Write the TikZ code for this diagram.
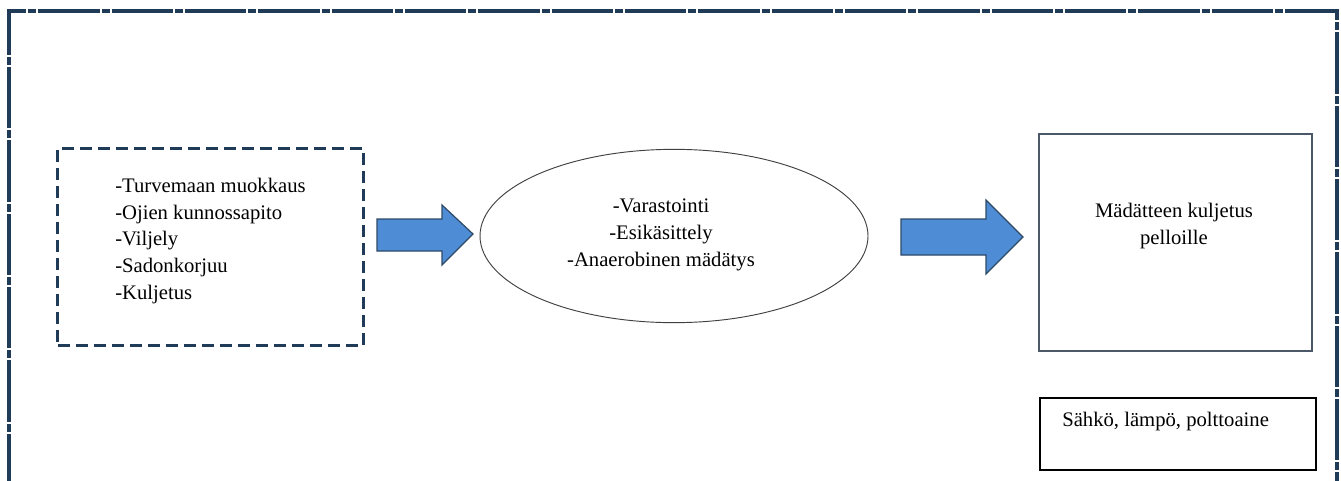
\documentclass[tikz,border=0pt]{standalone}
\usepackage{fontspec}
\setmainfont{Liberation Serif}
\usetikzlibrary{shapes.geometric}
\definecolor{FrameNavy}{HTML}{1F3B57}
\definecolor{ArrowBlue}{HTML}{4F8CD6}
\definecolor{ArrowEdge}{HTML}{2E4A66}
\definecolor{BoxGrey}{HTML}{4A5868}

\begin{document}
\begin{tikzpicture}[x=0.75pt,y=-0.75pt,
    every node/.style={font=\fontsize{15.5}{20}\selectfont},
    framestyle/.style={FrameNavy,line width=2.6pt,dash pattern=on 46pt off 1.5pt on 6pt off 1.5pt},
    workbox/.style={draw=FrameNavy,line width=2.2pt,dash pattern=on 9pt off 4.5pt,
      rectangle,inner sep=0pt,minimum width=229pt,minimum height=148pt,align=left},
    storebox/.style={draw=black!75,line width=0.7pt,ellipse,inner sep=0pt,
      minimum width=291pt,minimum height=130pt},
    haulbox/.style={draw=BoxGrey,line width=1.1pt,rectangle,inner sep=0pt,
      minimum width=205pt,minimum height=163pt},
    energybox/.style={draw=black,line width=2.2pt,rectangle,inner sep=0pt,
      minimum width=207pt,minimum height=54pt},
    bigarrow/.style={fill=ArrowBlue,draw=ArrowEdge,line width=0.9pt,line join=miter}]
  \useasboundingbox (0,0) rectangle (1341,481);
  \fill[white] (0,0) rectangle (1341,481);
  % outer frame, open at the bottom
  \draw[framestyle] (9,495) -- (9,11) -- (1337,11) -- (1337,495);

  \node[workbox] (work) at (210.5,247) {};
  \node[anchor=west,align=left,inner sep=0pt] (worktext) at (115,241)
    {-Turvemaan muokkaus\\-Ojien kunnossapito\\-Viljely\\-Sadonkorjuu\\-Kuljetus};
  \node[storebox] (store) at (674,236) {};
  \node[align=center] (storetext) at (661,235) {-Varastointi\\-Esikäsittely\\-Anaerobinen mädätys};
  \node[haulbox] (haul) at (1175.5,242.5) {};
  \node[align=center] (haultext) at (1174,226) {Mädätteen kuljetus\\pelloille};
  \node[energybox] (energy) at (1178,434) {};
  \node[anchor=west,inner sep=0pt] (energytext) at (1062,422) {Sähkö, lämpö, polttoaine};

  % block arrows
  \draw[bigarrow] (377,219) -- (442,219) -- (442,205) -- (473,234)
    -- (442,265) -- (442,251) -- (377,251) -- cycle;
  \draw[bigarrow] (901,219) -- (986,219) -- (986,200) -- (1023,237)
    -- (986,274) -- (986,255) -- (901,255) -- cycle;
\end{tikzpicture}
\end{document}
